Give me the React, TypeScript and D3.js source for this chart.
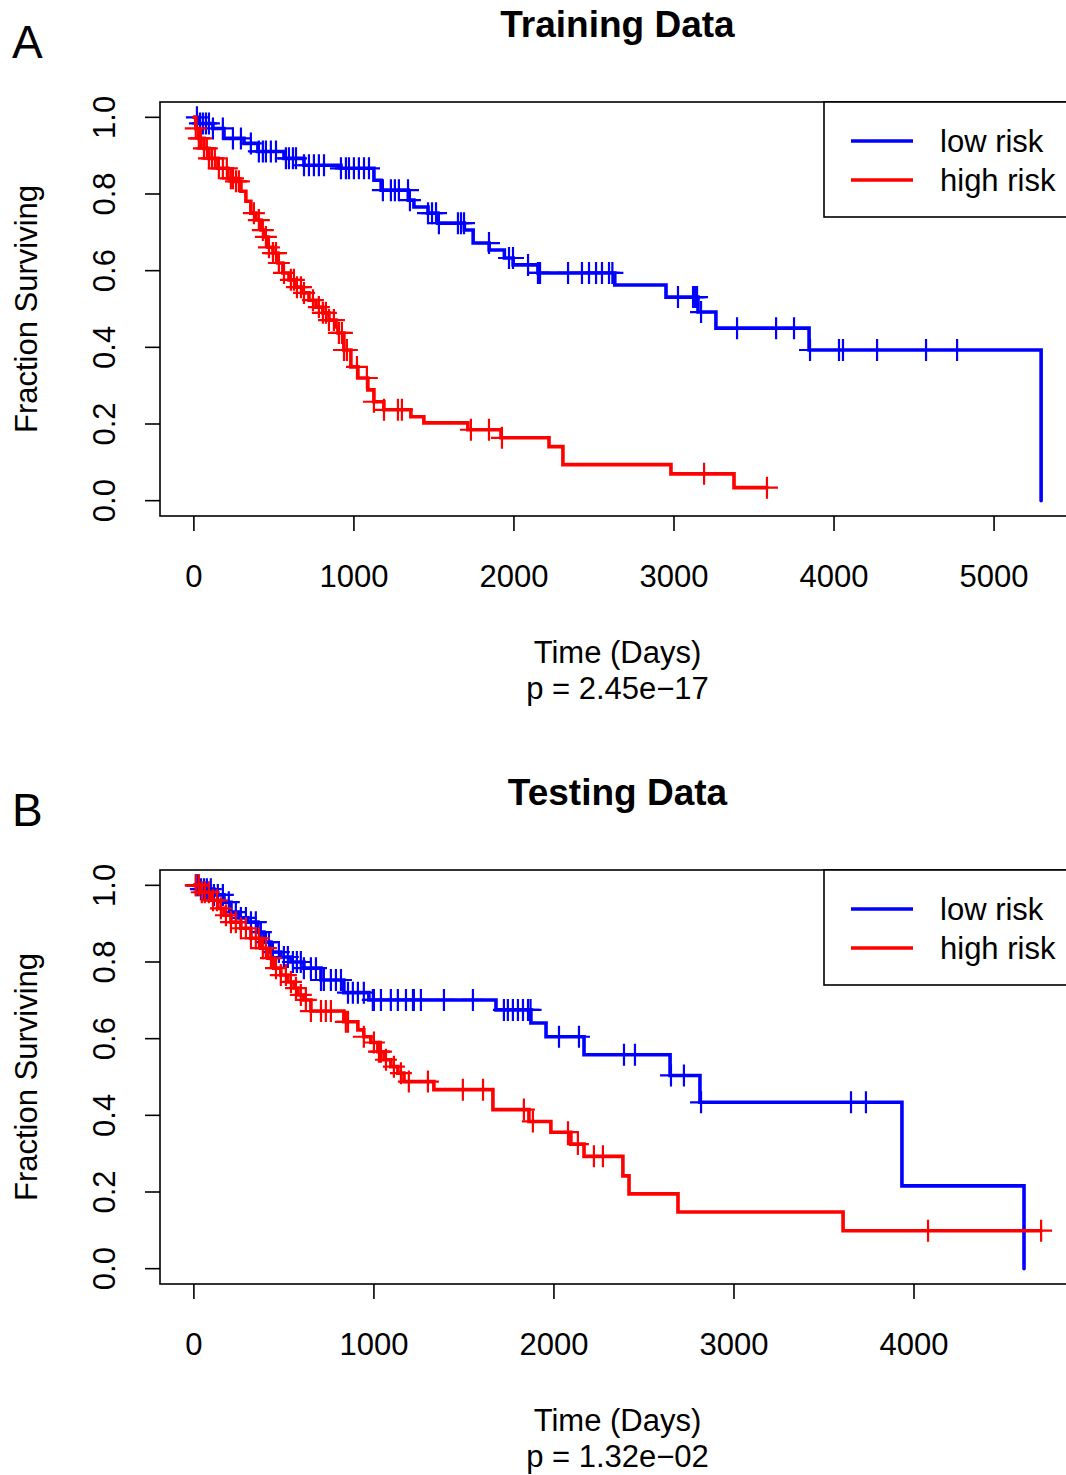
import React, { useRef, useEffect } from "react";
import * as d3 from "d3";

// Training data, low risk (blue)
const trainLowTime = [0, 25, 119, 188, 313, 400, 563, 688, 919, 1125, 1170, 1340, 1375, 1463, 1525, 1690, 1745, 1845, 1940, 1995, 2150, 2630, 2950, 3150, 3262, 3844, 5294];
const trainLowSurv = [1.0, 0.984, 0.971, 0.945, 0.932, 0.911, 0.893, 0.875, 0.867, 0.836, 0.81, 0.784, 0.766, 0.75, 0.724, 0.706, 0.672, 0.654, 0.633, 0.615, 0.594, 0.5625, 0.531, 0.492, 0.45, 0.393, 0.0];
const trainLowCensor = [19, 38, 56, 75, 94, 119, 181, 244, 294, 356, 406, 431, 450, 481, 513, 575, 594, 619, 638, 688, 719, 750, 781, 813, 919, 950, 969, 1000, 1031, 1063, 1094, 1181, 1231, 1256, 1281, 1338, 1350, 1463, 1488, 1513, 1531, 1650, 1669, 1688, 1844, 1969, 1994, 2088, 2150, 2163, 2338, 2425, 2469, 2513, 2550, 2594, 2615, 3025, 3119, 3131, 3144, 3169, 3394, 3638, 3750, 3850, 4031, 4056, 4269, 4575, 4769];

// Training data, high risk (red)
const trainHighTime = [0, 12, 31, 63, 94, 150, 213, 263, 294, 325, 356, 388, 419, 438, 463, 494, 525, 556, 594, 638, 681, 719, 763, 806, 844, 888, 900, 937, 981, 1025, 1087, 1125, 1187, 1356, 1437, 1712, 1919, 2219, 2306, 2981, 3375];
const trainHighSurv = [1.0, 0.971, 0.945, 0.919, 0.893, 0.867, 0.841, 0.833, 0.807, 0.781, 0.75, 0.732, 0.706, 0.688, 0.661, 0.646, 0.62, 0.594, 0.576, 0.557, 0.542, 0.523, 0.505, 0.49, 0.471, 0.453, 0.4375, 0.393, 0.349, 0.32, 0.289, 0.258, 0.237, 0.219, 0.203, 0.185, 0.164, 0.141, 0.094, 0.07, 0.034];
const trainHighCensor = [12, 31, 44, 63, 81, 94, 113, 131, 156, 181, 206, 231, 244, 263, 281, 375, 406, 431, 450, 469, 494, 513, 531, 563, 606, 625, 644, 669, 688, 744, 781, 806, 825, 844, 875, 906, 925, 938, 956, 1019, 1081, 1125, 1188, 1275, 1300, 1731, 1844, 1925, 3188, 3581];

// Testing data, low risk (blue)
const testLowTime = [0, 30, 111, 167, 206, 250, 300, 356, 389, 428, 483, 539, 611, 706, 833, 972, 1678, 1872, 1956, 2167, 2645, 2811, 3933, 4611];
const testLowSurv = [1.0, 0.99, 0.975, 0.956, 0.93, 0.915, 0.904, 0.878, 0.852, 0.826, 0.813, 0.8, 0.784, 0.753, 0.72, 0.701, 0.675, 0.641, 0.605, 0.558, 0.504, 0.434, 0.216, 0.0];
const testLowCensor = [11, 22, 39, 56, 72, 94, 111, 133, 161, 194, 233, 261, 289, 317, 344, 372, 400, 417, 439, 472, 500, 522, 550, 572, 594, 611, 650, 678, 706, 722, 761, 789, 817, 856, 883, 911, 944, 994, 1000, 1039, 1094, 1133, 1178, 1217, 1222, 1261, 1389, 1550, 1722, 1744, 1772, 1800, 1828, 1856, 1870, 2028, 2139, 2389, 2450, 2650, 2722, 2817, 3650, 3733];

// Testing data, high risk (red)
const testHighTime = [0, 39, 94, 133, 167, 206, 261, 317, 372, 411, 444, 483, 522, 556, 578, 611, 650, 833, 911, 944, 983, 1022, 1056, 1094, 1133, 1167, 1333, 1661, 1861, 1983, 2094, 2167, 2383, 2417, 2689, 3606];
const testHighSurv = [1.0, 0.982, 0.961, 0.94, 0.922, 0.904, 0.888, 0.862, 0.836, 0.81, 0.784, 0.766, 0.748, 0.732, 0.714, 0.701, 0.672, 0.644, 0.623, 0.605, 0.59, 0.566, 0.545, 0.527, 0.51, 0.488, 0.467, 0.415, 0.384, 0.356, 0.325, 0.293, 0.242, 0.195, 0.148, 0.099];
const testHighCensor = [11, 28, 44, 61, 83, 106, 128, 150, 178, 206, 233, 261, 289, 317, 344, 361, 383, 400, 428, 456, 483, 511, 539, 567, 594, 622, 650, 706, 733, 761, 844, 856, 944, 1000, 1028, 1039, 1067, 1111, 1150, 1194, 1300, 1494, 1606, 1833, 1883, 2078, 2133, 2222, 2272, 4078, 4706];

const trainXTicks = [0, 1000, 2000, 3000, 4000, 5000];
const testXTicks = [0, 1000, 2000, 3000, 4000];
const survTicks = [0, 0.2, 0.4, 0.6, 0.8, 1.0];
const groupNames = ["low risk", "high risk"];
const groupColors = ["#0000ff", "#ff0000"];

const FONT = "'Liberation Sans', Arial, Helvetica, sans-serif";

const App = () => {
    const svgRef = useRef(null);
    const width = 1066;
    const height = 1475;

    useEffect(() => {
        const svg = d3.select(svgRef.current);
        svg.selectAll("*").remove();

        drawPanel(svg, {
            top: 0,
            letter: "A",
            title: "Training Data",
            pText: "p = 2.45e\u221217",
            xMax: 5294,
            xTicks: trainXTicks,
            curves: [
                { time: trainLowTime, surv: trainLowSurv, censor: trainLowCensor, end: 5294, color: groupColors[0] },
                { time: trainHighTime, surv: trainHighSurv, censor: trainHighCensor, end: 3581, color: groupColors[1] },
            ],
        });

        drawPanel(svg, {
            top: 768,
            letter: "B",
            title: "Testing Data",
            pText: "p = 1.32e\u221202",
            xMax: 4706,
            xTicks: testXTicks,
            curves: [
                { time: testLowTime, surv: testLowSurv, censor: testLowCensor, end: 4611, color: groupColors[0] },
                { time: testHighTime, surv: testHighSurv, censor: testHighCensor, end: 4706, color: groupColors[1] },
            ],
        });
    }, []);

    const drawPanel = (svg, p) => {
        const g = svg.append("g").attr("transform", `translate(0,${p.top})`);
        const left = 160, right = 1075, top = 102, bottom = 516;

        const x = d3.scaleLinear().domain([-0.04 * p.xMax, 1.04 * p.xMax]).range([left, right]);
        const y = d3.scaleLinear().domain([-0.04, 1.04]).range([bottom, top]);

        // curves
        const line = d3.line().x(d => x(d[0])).y(d => y(d[1])).curve(d3.curveStepAfter);
        p.curves.forEach(c => {
            const pts = c.time.map((t, i) => [t, c.surv[i]]);
            pts.push([c.end, c.surv[c.surv.length - 1]]);
            g.append("path")
                .attr("d", line(pts))
                .attr("fill", "none")
                .attr("stroke", c.color)
                .attr("stroke-width", 3.6)
                .attr("stroke-linecap", "round");

            // censor marks (+)
            c.censor.forEach(t => {
                const idx = d3.bisectRight(c.time, t) - 1;
                const cx = x(t);
                const cy = y(c.surv[Math.max(0, idx)]);
                g.append("path")
                    .attr("d", `M${cx - 11},${cy}H${cx + 11}M${cx},${cy - 11}V${cy + 11}`)
                    .attr("stroke", c.color)
                    .attr("stroke-width", 2.2)
                    .attr("fill", "none");
            });
        });

        // box
        g.append("rect")
            .attr("x", left).attr("y", top)
            .attr("width", right - left).attr("height", bottom - top)
            .attr("fill", "none").attr("stroke", "#000").attr("stroke-width", 1.6);

        // x axis
        p.xTicks.forEach(t => {
            g.append("line")
                .attr("x1", x(t)).attr("x2", x(t))
                .attr("y1", bottom).attr("y2", bottom + 15)
                .attr("stroke", "#000").attr("stroke-width", 1.6);
            g.append("text")
                .attr("x", x(t)).attr("y", bottom + 71)
                .attr("text-anchor", "middle")
                .style("font-family", FONT).style("font-size", "31px")
                .text(String(t));
        });

        // y axis
        survTicks.forEach(t => {
            g.append("line")
                .attr("x1", left - 15).attr("x2", left)
                .attr("y1", y(t)).attr("y2", y(t))
                .attr("stroke", "#000").attr("stroke-width", 1.6);
            g.append("text")
                .attr("transform", `translate(115,${y(t)}) rotate(-90)`)
                .attr("text-anchor", "middle")
                .style("font-family", FONT).style("font-size", "31px")
                .text(t.toFixed(1));
        });

        g.append("text")
            .attr("transform", `translate(37,${(top + bottom) / 2}) rotate(-90)`)
            .attr("text-anchor", "middle")
            .style("font-family", FONT).style("font-size", "31px")
            .text("Fraction Surviving");

        const midX = (left + right) / 2;
        g.append("text")
            .attr("x", midX).attr("y", 37)
            .attr("text-anchor", "middle")
            .style("font-family", FONT).style("font-size", "37px").style("font-weight", "bold")
            .text(p.title);

        g.append("text")
            .attr("x", 12).attr("y", 58)
            .style("font-family", FONT).style("font-size", "46px")
            .text(p.letter);

        g.append("text")
            .attr("x", midX).attr("y", 663)
            .attr("text-anchor", "middle")
            .style("font-family", FONT).style("font-size", "31px")
            .text("Time (Days)");

        g.append("text")
            .attr("x", midX).attr("y", 699)
            .attr("text-anchor", "middle")
            .style("font-family", FONT).style("font-size", "31px")
            .text(p.pText);

        // legend
        g.append("rect")
            .attr("x", 824).attr("y", top)
            .attr("width", 300).attr("height", 115)
            .attr("fill", "#fff").attr("stroke", "#000").attr("stroke-width", 1.6);
        groupNames.forEach((name, i) => {
            const ly = 141 + i * 39;
            g.append("line")
                .attr("x1", 851).attr("x2", 913)
                .attr("y1", ly).attr("y2", ly)
                .attr("stroke", groupColors[i]).attr("stroke-width", 3.6);
            g.append("text")
                .attr("x", 940).attr("y", ly + 11)
                .style("font-family", FONT).style("font-size", "31px")
                .text(name);
        });
    };

    return (
        <div>
            <svg ref={svgRef} width={width} height={height}
                style={{ position: "absolute", left: 0, top: 0, background: "#fff" }}></svg>
        </div>
    );
};
export default App;
